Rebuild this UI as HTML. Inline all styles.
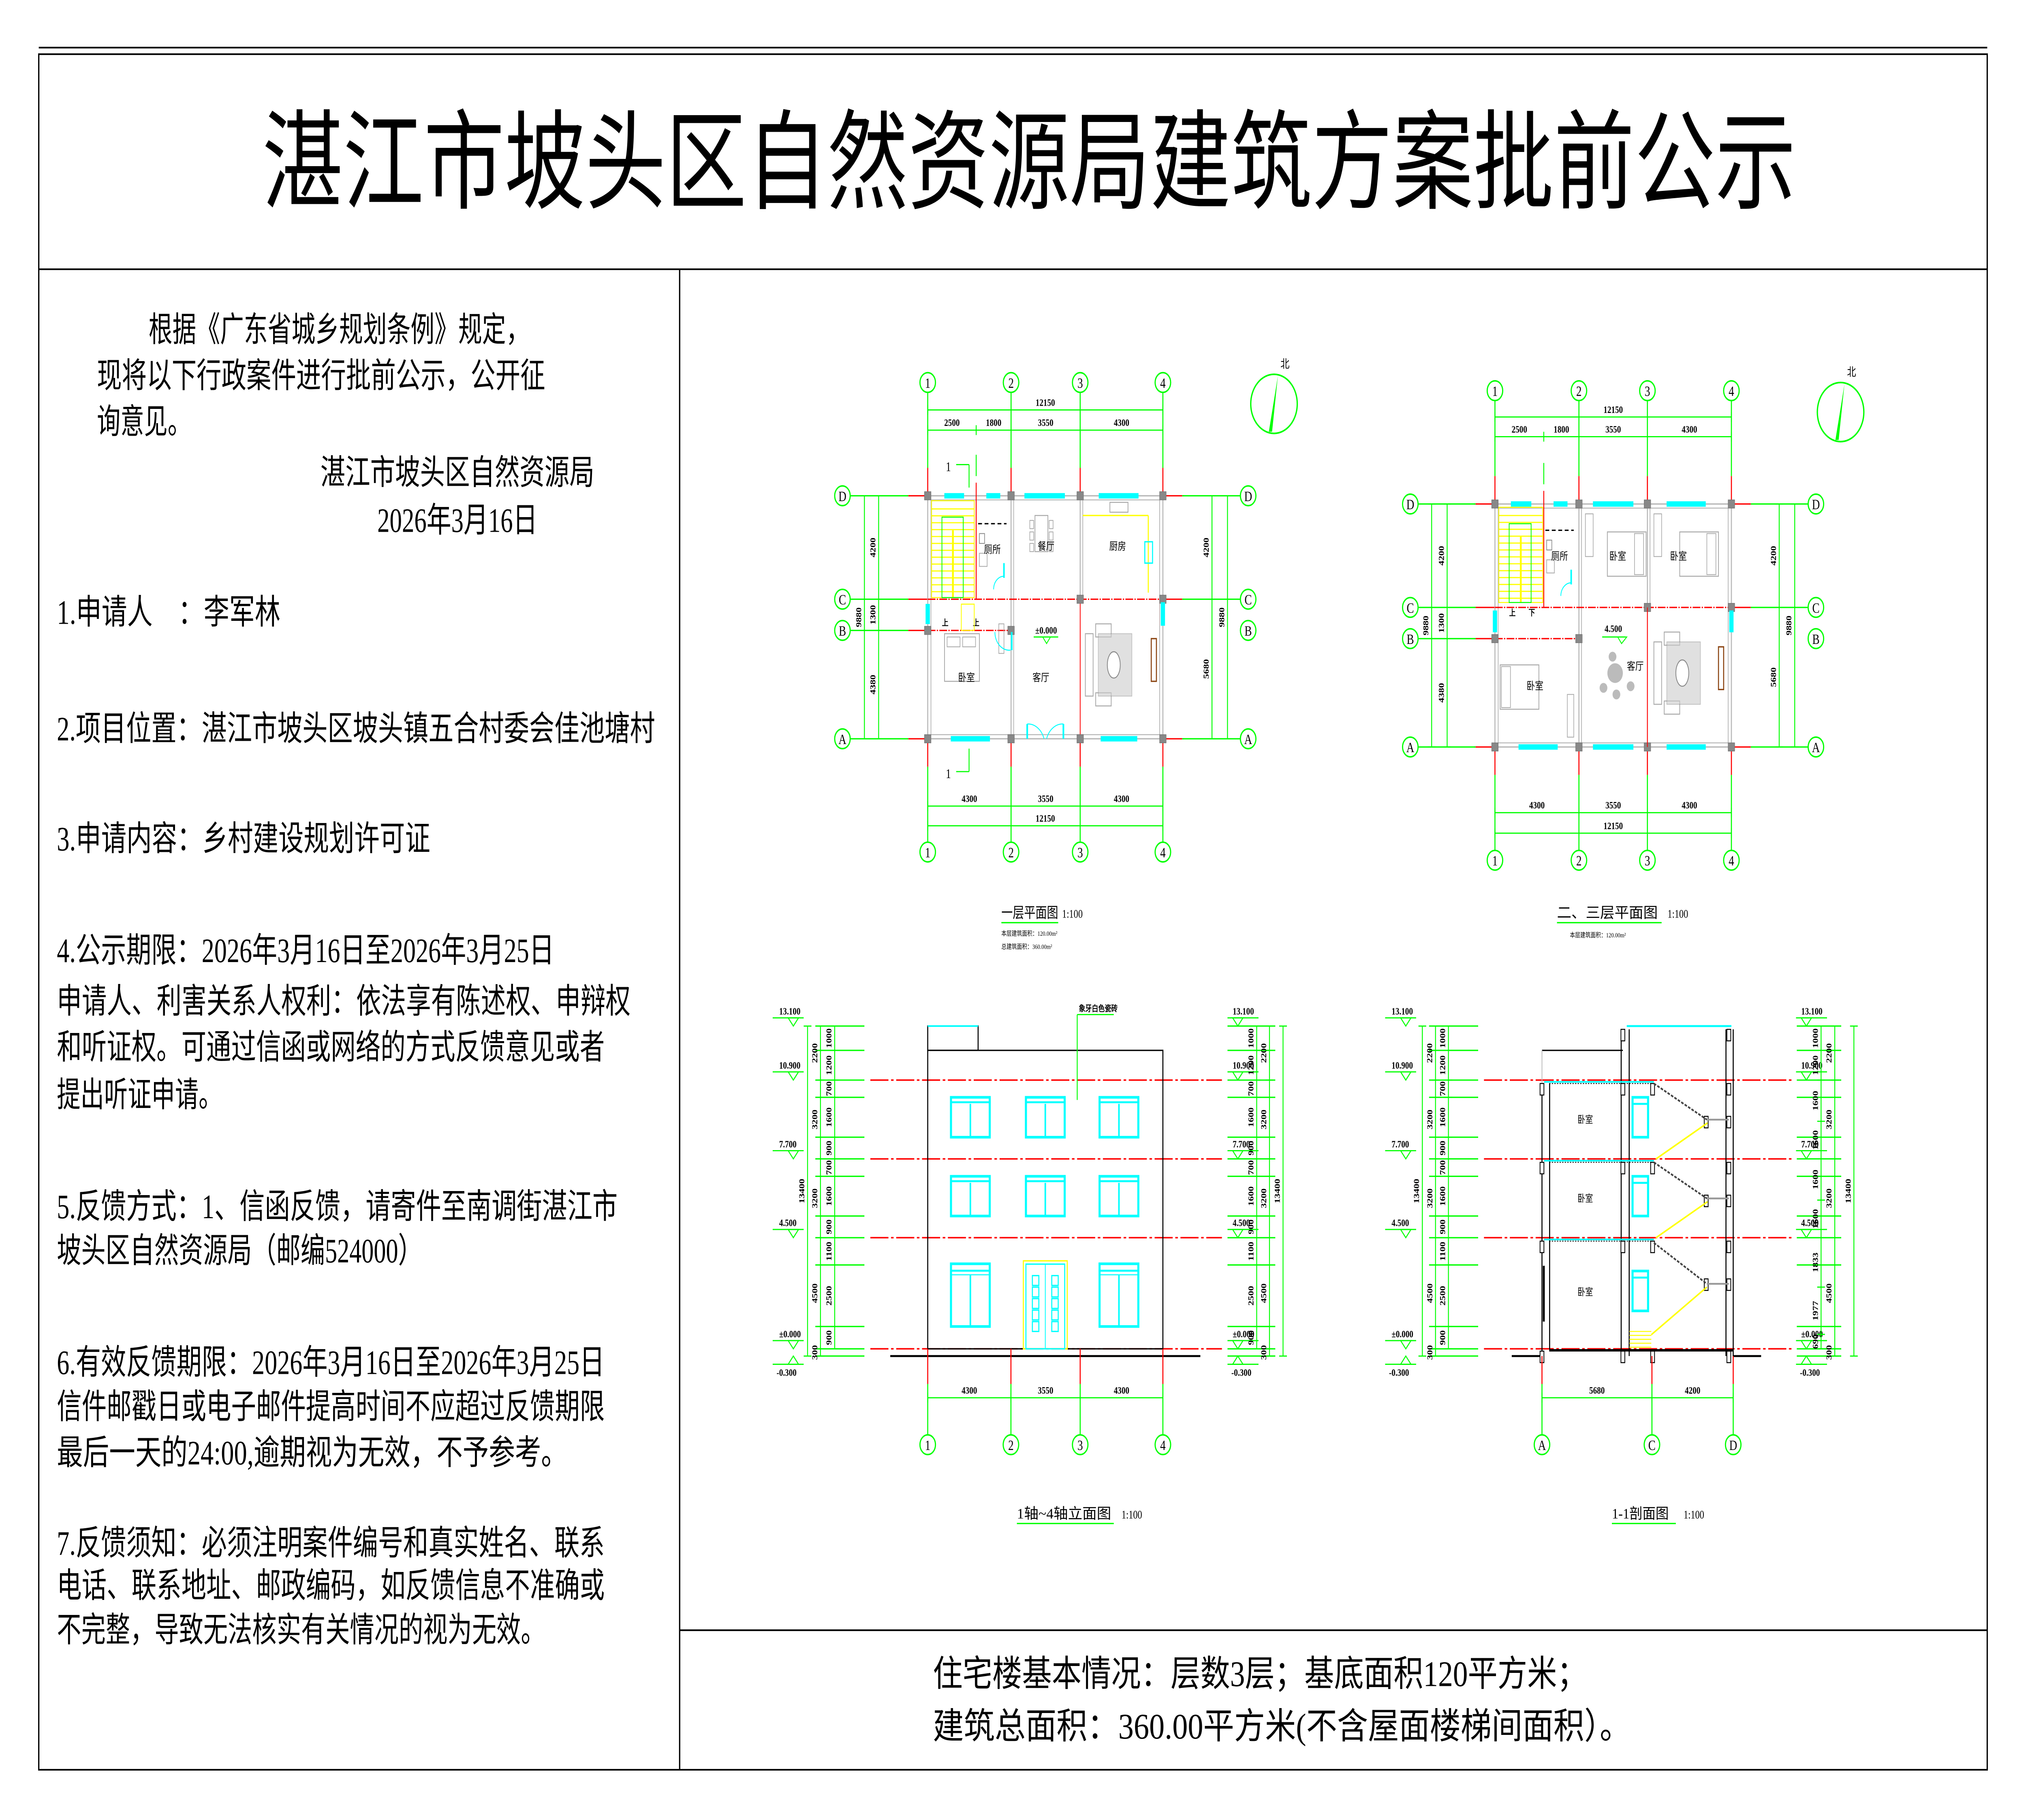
<!DOCTYPE html>
<html><head><meta charset="utf-8">
<style>
html,body{margin:0;padding:0;background:#fff;width:100%;height:100%;overflow:hidden;}
svg{display:block;position:fixed;left:0;top:0;width:100vw;height:100vh;}
</style></head>
<body>
<svg id="s" xmlns="http://www.w3.org/2000/svg" viewBox="0 0 1568 1108.6" preserveAspectRatio="none">
<rect x="0" y="0" width="1568" height="1110" fill="#fff"/>
<g id="g"></g>
</svg>
<script>
const G='#00ff00',R='#ff0000',C='#00ffff',Y='#ffff00',K='#000',GR='#b8b8b8';
const SER='"Liberation Serif","Noto Serif CJK SC",serif';
const SAN='"Liberation Sans Narrow","Liberation Sans","Noto Sans CJK SC",sans-serif';
let s='';
function L(x1,y1,x2,y2,c,w,d){s+=`<line x1="${x1}" y1="${y1}" x2="${x2}" y2="${y2}" stroke="${c}" stroke-width="${w||0.6}"${d?` stroke-dasharray="${d}"`:''}/>`;}
function Rc(x,y,w,h,c,sw,f){s+=`<rect x="${x}" y="${y}" width="${w}" height="${h}" stroke="${c}" stroke-width="${sw||0.6}" fill="${f||'none'}"/>`;}
function T(x,y,t,sz,o){o=o||{};s+=`<text x="${x}" y="${y}" font-size="${sz}" font-family="${o.f||SER}" fill="${o.c||K}"${o.a?` text-anchor="${o.a}"`:''}${o.tl?` textLength="${o.tl}" lengthAdjust="spacingAndGlyphs"`:''}${o.r?` transform="rotate(-90 ${x} ${y})"`:''}${o.w?` font-weight="${o.w}"`:''}>${t}</text>`;}
function bub(x,y,t,r){r=r||6;s+=`<circle cx="${x}" cy="${y}" r="${r}" stroke="${G}" stroke-width="0.9" fill="#fff"/>`;T(x,y+3.2,t,8.5,{a:'middle',f:SAN});}
function hdim(y,xs,lb,up){L(xs[0],y,xs[xs.length-1],y,G,0.7);xs.forEach(x=>L(x,y-3,x,y+3,G,0.7));for(let i=0;i<lb.length;i++)T((xs[i]+xs[i+1])/2,y-2.5,lb[i],6,{a:'middle',f:SAN,w:'bold'});}
function vdim(x,ys,lb){L(x,ys[0],x,ys[ys.length-1],G,0.7);ys.forEach(y=>L(x-3,y,x+3,y,G,0.7));for(let i=0;i<lb.length;i++)if(lb[i])T(x-2.5,(ys[i]+ys[i+1])/2,lb[i],6,{a:'middle',f:SAN,w:'bold',r:1});}
function north(cx,cy){s+=`<circle cx="${cx}" cy="${cy}" r="18" stroke="${G}" stroke-width="1" fill="none"/>`;s+=`<polygon points="${cx+3},${cy-17} ${cx-1.5},${cy+17} ${cx-4},${cy+17}" fill="${G}"/>`;T(cx+5,cy-22,'北',7);}

/* frame */
L(30,29,1538,29,K,1);
Rc(30,33,1508,1045,K,1);
L(30,164,1538,164,K,1);
L(526,164,526,1078,K,1);
L(526,993,1538,993,K,1);
T(203,122,'湛江市坡头区自然资源局建筑方案批前公示',66,{tl:1187});
const lt=[[115,208,'根据《广东省城乡规划条例》规定，',295],[75,236,'现将以下行政案件进行批前公示，公开征',347],[75,264,'询意见。',73],[248,295,'湛江市坡头区自然资源局',212],[292,324,'2026年3月16日',124],
[44,380,'1.申请人　：李军林',173],[44,451,'2.项目位置：湛江市坡头区坡头镇五合村委会佳池塘村',463],[44,518,'3.申请内容：乡村建设规划许可证',289],
[44,586,'4.公示期限：2026年3月16日至2026年3月25日',385],[44,617,'申请人、利害关系人权利：依法享有陈述权、申辩权',444],[44,645,'和听证权。可通过信函或网络的方式反馈意见或者',424],[44,674,'提出听证申请。',128],
[44,742,'5.反馈方式：1、信函反馈，请寄件至南调街湛江市',434],[44,769,'坡头区自然资源局（邮编524000）',283],
[44,837,'6.有效反馈期限：2026年3月16日至2026年3月25日',424],[44,864,'信件邮戳日或电子邮件提高时间不应超过反馈期限',424],[44,892,'最后一天的24:00,逾期视为无效，不予参考。',395],
[44,947,'7.反馈须知：必须注明案件编号和真实姓名、联系',424],[44,973,'电话、联系地址、邮政编码，如反馈信息不准确或',424],[44,1000,'不完整，导致无法核实有关情况的视为无效。',378]];
lt.forEach(l=>T(l[0],l[1],l[2],21,{tl:l[3]}));
T(722,1027,'住宅楼基本情况：层数3层；基底面积120平方米；',22,{tl:506});
T(722,1059,'建筑总面积：360.00平方米(不含屋面楼梯间面积）。',22,{tl:540});

/* plans */
function plan(p){
 const [x0,x1,x2,x3]=p.ax,{D,Cc,B,A}=p.ay;
 p.ax.forEach((x,i)=>{bub(x,p.bt,i+1);bub(x,p.bb,i+1);
  L(x,p.bt+6,x,D-17,G,0.8);L(x,D-17,x,D,R,0.8);L(x,A,x,A+17,R,0.8);L(x,A+17,x,p.bb-6,G,0.8);});
 [['D',D],['C',Cc],['B',B],['A',A]].forEach(([n,y])=>{bub(p.bl,y,n);bub(p.br,y,n);
  L(p.bl+6,y,x0-15,y,G,0.8);L(x0-15,y,x0,y,R,0.8);
  if(n!='B'){L(x3,y,x3+15,y,R,0.8);L(x3+15,y,p.br-6,y,G,0.8);}});
 hdim(p.dt1,[x0,x3],['12150']);
 hdim(p.dt2,[x0,x0+(x1-x0)*2500/4300,x1,x2,x3],['2500','1800','3550','4300']);
 hdim(p.db1,[x0,x1,x2,x3],['4300','3550','4300']);
 hdim(p.db2,[x0,x3],['12150']);
 vdim(p.dl1,[D,A],['9880']);vdim(p.dl2,[D,Cc,B,A],['4200','1300','4380']);
 vdim(p.dr1,[D,Cc,A],['4200','5680']);vdim(p.dr2,[D,A],['9880']);
 Rc(x0,D,x3-x0,A-D,GR,0.8);Rc(x0+2.5,D+2.5,x3-x0-5,A-D-5,GR,0.6);
 L(x1,D,x1,A,GR,0.8);L(x1+2,D,x1+2,A,GR,0.6);
 L(x2,D,x2,Cc,GR,0.8);L(x2+2,D,x2+2,Cc,GR,0.6);
 L(x0,Cc,x3,Cc,R,0.8,'6 1 1 1');L(x0,B,x1,B,R,0.8,'6 1 1 1');
 L(x2,Cc,x2,A,R,0.6);
 const sx=x0+(x1-x0)*2500/4300;L(sx,D-25,sx,D-12,G,0.7);L(sx,D-8,sx,Cc,R,0.7);
 [[x0,D],[x1,D],[x2,D],[x3,D],[x2,Cc],[x3,Cc],[x0,B],[x1,B],[x0,A],[x1,A],[x2,A],[x3,A]].forEach(([x,y])=>Rc(x-2.5,y-2.5,5,5,'#777',0.4,'#888'));
 p.win.forEach(w=>{if(w[0]=='h'){Rc(w[1],w[3]-1.5,w[2]-w[1],3,C,0.3,C);}else{Rc(w[1]-1.5,w[2],3,w[3]-w[2],C,0.3,C);}});
 const st=p.st;Rc(st[0],st[1],st[2]-st[0],st[3]-st[1],Y,0.6);
 for(let y=st[1]+5;y<st[3];y+=4.2)L(st[0],y,st[2],y,Y,0.7);
 L((st[0]+st[2])/2,st[1]+18,(st[0]+st[2])/2,st[3],Y,1.4);
 Rc(st[0]+8,st[1]+10,(st[2]-st[0])*0.5,st[3]-st[1]-10,G,0.6);
 const tx=p.tl;L(tx[0],tx[1],tx[0]+22,tx[1],K,0.8,'3 2');
 Rc(tx[0]+1,tx[1]+6,4,6,'#888',0.5);Rc(tx[0]+1,tx[1]+18,6,8,'#aaa',0.5);
 s+=`<path d="M${tx[0]+20},${tx[1]+32} a8,8 0 0 0 -8,8" stroke="${C}" fill="none" stroke-width="0.6"/>`;L(tx[0]+20,tx[1]+24,tx[0]+20,tx[1]+33,C,1.2);
 const sf=p.sofa;Rc(sf[0],sf[1]+6,6,38,'#aaa',0.6);Rc(sf[0]+8,sf[1],12,8,'#aaa',0.6);Rc(sf[0]+8,sf[1]+42,12,8,'#aaa',0.6);
 s+=`<rect x="${sf[0]+10}" y="${sf[1]+6}" width="26" height="38" fill="#ccc" stroke="#999" stroke-width="0.5" opacity="0.6"/>`;
 s+=`<ellipse cx="${sf[0]+22}" cy="${sf[1]+25}" rx="5" ry="8" fill="#fff" stroke="#888" stroke-width="0.6"/>`;
 Rc(p.tv[0],p.tv[1],4,26,'#8b4513',0.8,'#fff');
}
plan({ax:[718,782.5,836,900],ay:{D:302,Cc:365,B:384,A:450},bt:233,bb:519,bl:652,br:966,dt1:249.7,dt2:262,db1:491,db2:503,dl1:669,dl2:680,dr1:938,dr2:950,
 win:[['h',731,746,302],['h',763.5,774,302],['h',793,824,302],['h',850.5,881,302],['h',736,766,450],['h',852,880,450],['v',900,367,381],['v',718,368,380]],
 st:[721,305,754,364],tl:[757,319],sofa:[840,380],tv:[891,389]});
Rc(773,380,4,18,'#aaa',0.5);
L(838,314,888.7,314,Y,0.8);L(888.7,314,888.7,361,Y,0.8);Rc(886,330,6,13,C,0.8);Rc(859,306,14,6,'#aaa',0.6);
Rc(801,314,10,22,'#aaa',0.6);for(let i=0;i<3;i++){Rc(797,317+i*7,3,5,'#aaa',0.5);Rc(812,317+i*7,3,5,'#aaa',0.5);}
Rc(731,386,27,29,'#aaa',0.6);Rc(733,388,10,6,'#aaa',0.5);Rc(745,388,10,6,'#aaa',0.5);
L(795,441,795,450,C,1.3);L(823,441,823,450,C,1.3);s+=`<path d="M795,441 a13,13 0 0 1 13,9 M823,441 a13,13 0 0 0 -13,9" stroke="${C}" fill="none" stroke-width="0.6"/>`;
L(783,385,783,396,C,1.3);s+=`<path d="M770,385 a11,11 0 0 0 12,11" stroke="${C}" fill="none" stroke-width="0.6"/>`;
T(768,337,'厕所',6.5,{a:'middle'});T(809.6,335,'餐厅',6.5,{a:'middle'});T(865,335,'厨房',6.5,{a:'middle'});T(748,415,'卧室',6.5,{a:'middle'});T(805.6,415,'客厅',6.5,{a:'middle'});
T(809.6,386,'±0.000',6,{a:'middle',f:SAN,w:'bold'});L(800,388,819,388,G,0.7);s+=`<polygon points="807,388 813,388 810,392" fill="none" stroke="${G}" stroke-width="0.6"/>`;
T(734,287,'1',8,{a:'middle',f:SAN});L(740,283,750,283,G,0.7);L(750,283,750,297,G,0.7);
T(734,474,'1',8,{a:'middle',f:SAN});L(740,470,750,470,G,0.7);L(750,456,750,470,G,0.7);
T(729,381,'上',5,{f:SAN,w:'bold'});T(753,381,'上',5,{f:SAN,w:'bold'});Rc(744,368,10,16,Y,0.6);
north(986,246);
T(775,559,'一层平面图',9,{tl:44});T(822,559,'1:100',7,{f:SAN});L(775,562,819,562,G,0.8);
T(775,570,'本层建筑面积：120.00m²',4);T(775,578,'总建筑面积：360.00m²',4);

plan({ax:[1157,1222,1275,1340],ay:{D:307,Cc:370,B:389,A:455},bt:238,bb:524,bl:1091.5,br:1405.4,dt1:254,dt2:266,db1:495,db2:507.5,dl1:1108,dl2:1120,dr1:1377,dr2:1389,
 win:[['h',1169.5,1185,307],['h',1202.5,1213,307],['h',1233,1264,307],['h',1290,1320,307],['h',1175.4,1205.4,455],['h',1233,1264,455],['h',1290,1320,455],['v',1340,372,385],['v',1157,372,385]],
 st:[1160,309,1194,367],tl:[1196,323],sofa:[1280,385],tv:[1330,394]});
L(1275,370,1275,455,R,0.6);
[[1244,324],[1300,324]].forEach(([x,y])=>{Rc(x,y,30,27,'#aaa',0.6);Rc(x+21,y+1,7,25,'#aaa',0.5);});
Rc(1161,405,30,27,'#aaa',0.6);Rc(1162,406,7,25,'#aaa',0.5);Rc(1213,423,5,26,'#aaa',0.5);Rc(1227,313,6,26,'#aaa',0.5);Rc(1280,313,6,26,'#aaa',0.5);
s+=`<circle cx="1250" cy="410" r="6" fill="#bbb"/><circle cx="1248" cy="400" r="3" fill="#bbb"/><circle cx="1241" cy="419" r="3" fill="#bbb"/><circle cx="1251" cy="423" r="3" fill="#bbb"/><circle cx="1262" cy="418" r="3" fill="#bbb"/>`;
T(1207,341,'厕所',6.5,{a:'middle'});T(1252,341,'卧室',6.5,{a:'middle'});T(1299,341,'卧室',6.5,{a:'middle'});T(1188,420,'卧室',6.5,{a:'middle'});T(1265.6,408,'客厅',6.5,{a:'middle'});
T(1248.6,385,'4.500',6,{a:'middle',f:SAN,w:'bold'});L(1240,388,1258,388,G,0.7);s+=`<polygon points="1252,388 1259,388 1255,392" fill="none" stroke="${G}" stroke-width="0.6"/>`;
T(1168,375,'上',5,{f:SAN,w:'bold'});T(1183,375,'下',5,{f:SAN,w:'bold'});
north(1424.5,251);
T(1205,559,'二、三层平面图',9,{tl:78});T(1290.6,559,'1:100',7,{f:SAN});L(1205,562,1286,562,G,0.8);
T(1215,571,'本层建筑面积：120.00m²',4);

const Ly={t:625,r:639.8,l109:657.9,l77:705.9,l45:753.9,l0:821.6,lm:826};
function lev(x,y,t,right,below){const x2=right?x+24:x-24;const a=right?x+4:x-19;
 L(Math.min(x,x2),y-5,Math.max(x,x2),y-5,G,0.7);
 const cx=right?x+8:x-8; s+=`<polygon points="${cx-4},${y-5} ${cx+4},${y-5} ${cx},${y}" fill="none" stroke="${G}" stroke-width="0.7"/>`;
 if(!below)T(a,y-7,t,6,{f:SAN,w:'bold'});}
function sideDims(p){
 const ys=p.ys;
 [['13.100',Ly.t],['10.900',Ly.l109],['7.700',Ly.l77],['4.500',Ly.l45],['±0.000',Ly.l0]].forEach(([t,y])=>{lev(p.lx,y,t,false);lev(p.rx,y,t,true);});
 [[p.lx,-1],[p.rx,1]].forEach(([x,sg])=>{const cx=x+sg*8;L(Math.min(x,x+sg*24),Ly.lm+5,Math.max(x,x+sg*24),Ly.lm+5,G,0.7);s+=`<polygon points="${cx-4},${Ly.lm+5} ${cx+4},${Ly.lm+5} ${cx},${Ly.lm}" fill="none" stroke="${G}" stroke-width="0.7"/>`;T(sg<0?x-21:x+3,Ly.lm+12,'-0.300',6,{f:SAN,w:'bold'});});
 ys.forEach(y=>{L(p.lt0,y,p.lt1,y,G,0.8);L(p.rt0,y,p.rt1,y,G,0.8);});
 const big=[Ly.t,Ly.l109,Ly.l77,Ly.l45,Ly.l0,Ly.lm];
 vdim(p.l1,[Ly.t,Ly.lm],['13400']);vdim(p.l2,big,['2200','3200','3200','4500','300']);vdim(p.l3,p.fy,p.fl);
 vdim(p.r3,[Ly.t,Ly.lm],['13400']);vdim(p.r2,big,['2200','3200','3200','4500','300']);vdim(p.r1,p.fyr||p.fy,p.flr||p.fl);
 [Ly.l109,Ly.l77,Ly.l45,Ly.l0].forEach(y=>L(p.red0,y,p.red1,y,R,0.9,'14 2 2 2'));
}
const fy=[625,639.8,657.9,668.4,692.7,705.9,716.5,740.7,753.9,770.5,808,821.6];
const fl=['1000','1200','700','1600','900','700','1600','900','1100','2500','900'];
sideDims({lx:622,rx:950,ys:[625,639.8,657.9,668.4,692.7,705.9,716.5,740.7,753.9,770.5,808,821.6,826],lt0:631,lt1:669,rt0:950,rt1:987,l1:625,l2:635,l3:646,r1:972.6,r2:982.5,r3:993,fy:fy,fl:fl,red0:673.6,red1:945.7});
Rc(718,639.8,182,181.8,K,0.8);Rc(718,625,39,14.8,K,0.8);L(718,625,757,625,C,1);
L(689,826,929,826,K,1.2);
[[736,766],[794,824],[851,881]].forEach(([a,b])=>{[[668.4,692.7],[716.5,740.7]].forEach(([t,bt])=>{Rc(a,t,b-a,bt-t,C,1.6);L(a,t+3,b,t+3,C,1.2);L((a+b)/2,t+4,(a+b)/2,bt,C,1.2);});});
[[736,766],[851,881]].forEach(([a,b])=>{Rc(a,769.8,b-a,38.2,C,1.6);L(a,774,b,774,C,1.2);L(a,776.5,b,776.5,C,0.6);L((a+b)/2,776.5,(a+b)/2,808,C,1.2);});
Rc(792,768,34,53.6,Y,0.8);Rc(794,770,30,51.6,C,0.8);L(809,770,809,821.6,C,0.6);
for(let i=0;i<5;i++){Rc(799,777+i*7,5,6,C,0.8);Rc(814,777+i*7,5,6,C,0.8);}
L(833.7,618,833.7,670,G,0.7);L(833.7,618,862,618,G,0.7);T(835,616,'象牙白色瓷砖',5,{w:'bold'});
[[718,'1'],[782.4,'2'],[836,'3'],[900,'4']].forEach(([x,t])=>{L(x,821.6,x,843,R,0.8);L(x,843,x,874,G,0.8);bub(x,880,t);});
hdim(851.4,[718,782.4,836,900],['4300','3550','4300']);
T(787,925,'1轴~4轴立面图',9,{tl:73,f:SAN});T(868,925,'1:100',7,{f:SAN});L(787,928,862,928,G,0.8);

const fyr=[625,639.8,657.9,683,705.9,731,753.9,784,812.8,821.6];
sideDims({lx:1096,rx:1390,ys:[625,639.8,657.9,668.4,692.7,705.9,716.5,740.7,753.9,770.5,808,821.6,826],lt0:1106,lt1:1144,rt0:1390.6,rt1:1425,l1:1100.8,l2:1111,l3:1121,r1:1409.4,r2:1420,r3:1434.8,fy:fy,fl:fl,fyr:fyr,flr:['1000','1200','1600','1600','1600','1600','1833','1977','690'],red0:1148.5,red1:1386.6});
L(1193.4,660,1193.4,826,K,0.8);L(1199.3,660,1199.3,822,K,0.8);
L(1193.4,639.8,1256,639.8,K,0.8);L(1193.4,639.8,1193.4,660,GR,0.6);
L(1254.7,627,1254.7,826,K,0.8);L(1260.9,627,1260.9,826,K,0.8);
L(1335.8,627,1335.8,826,K,0.8);L(1341.4,627,1341.4,826,K,0.8);
L(1259,625,1340,625,C,1.2);L(1199,822.5,1341,822.5,K,1.5);L(1170,826,1193,826,K,1.2);L(1341,826,1363,826,K,1.2);
[659,707,755].forEach(y=>{L(1195,y,1280,y,C,1);L(1199,y+1,1280,y+1,K,0.5,'1 1');});
[[1193.4,[660,708,756,823]],[1256,[627,660,708,756,823]],[1338,[627,660,708,756,823]],[1279,[660,708,756,823]]].forEach(([x,ys])=>ys.forEach(y=>Rc(x-1.5,y,3,7,K,0.6,'#fff')));
[[1320.5,683],[1320.5,731],[1320.5,782],[1338,683],[1338,731],[1338,782]].forEach(([x,y])=>Rc(x-1.5,y-3,3,7,K,0.6,'#fff'));
[[668.4,692.7],[716.5,740.7],[774.2,798.5]].forEach(([a,b])=>{Rc(1263.5,a,12,b-a,C,1.6);L(1263.5,a+4,1275.5,a+4,C,1.2);});
[0,48].forEach(o=>{L(1280,660+o,1321,682+o,'#444',1.1,'2 1');L(1321,682+o,1338,682+o,'#999',1.1);L(1281.5,706+o,1321.5,684+o,Y,1);});
L(1280,757,1321,782,'#444',1.1,'2 1');L(1321,782,1338,782,'#999',1.1);L(1278,813,1321,784,Y,1);
for(let i=0;i<5;i++)L(1261,811+i*2.4,1278,811+i*2.4,Y,0.6);
L(1194.8,771,1194.8,805,K,1.5);
T(1226.9,684,'卧室',6,{a:'middle'});T(1226.9,732,'卧室',6,{a:'middle'});T(1226.9,789,'卧室',6,{a:'middle'});
[[1193.4,'A'],[1278.5,'C'],[1341.4,'D']].forEach(([x,t])=>{L(x,826,x,843,R,0.8);L(x,843,x,874,G,0.8);bub(x,880,t);});
hdim(851.4,[1193.4,1278.5,1341.4],['5680','4200']);
T(1247.5,925,'1-1剖面图',9,{tl:44,f:SAN});T(1303,925,'1:100',7,{f:SAN});L(1247.5,928,1297,928,G,0.8);

document.getElementById('g').innerHTML=s;
</script>
</body></html>
